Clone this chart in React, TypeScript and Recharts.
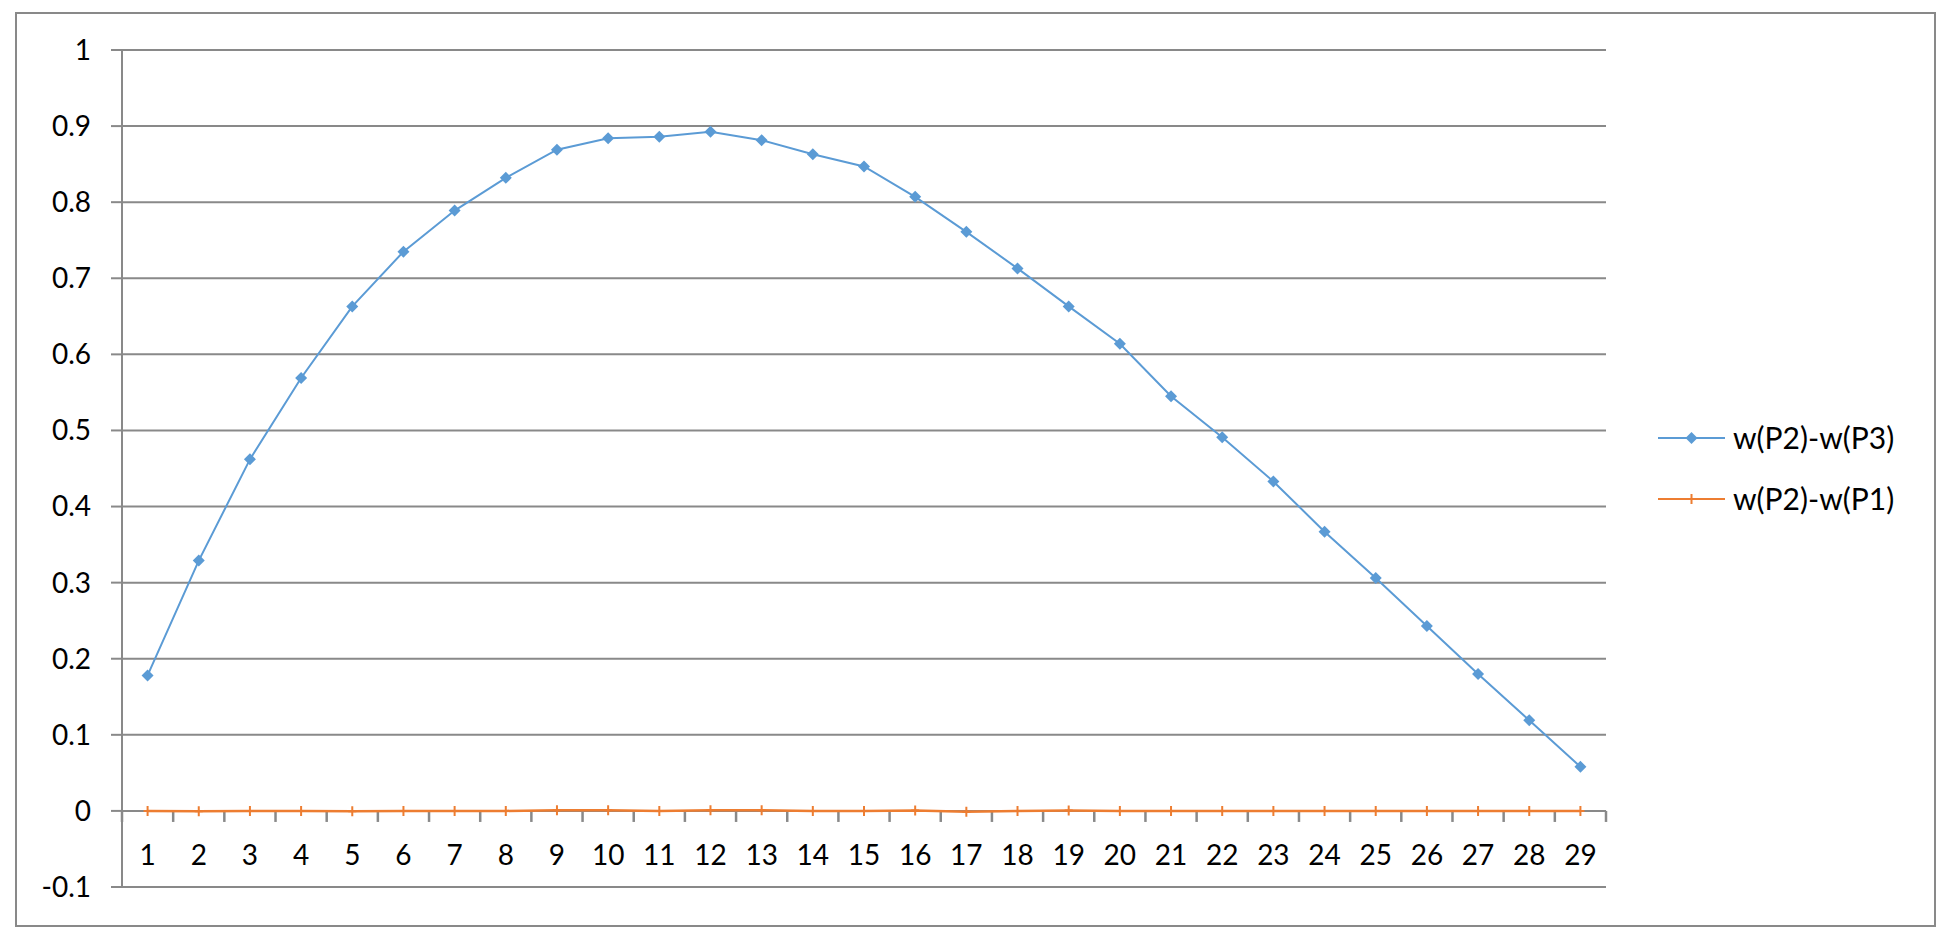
import React from 'react';
import { LineChart, Line, XAxis, YAxis, CartesianGrid, ReferenceLine } from 'recharts';

const categories = [1, 2, 3, 4, 5, 6, 7, 8, 9, 10, 11, 12, 13, 14, 15, 16, 17, 18, 19, 20, 21, 22, 23, 24, 25, 26, 27, 28, 29];
const seriesP2P3 = [0.178, 0.329, 0.462, 0.569, 0.663, 0.735, 0.789, 0.832, 0.869, 0.884, 0.886, 0.8925, 0.8815, 0.863, 0.847, 0.807, 0.761, 0.713, 0.663, 0.614, 0.545, 0.491, 0.433, 0.367, 0.306, 0.243, 0.180, 0.119, 0.058];
const seriesP2P1 = [0, -0.0005, 0, 0, -0.0005, 0, 0, 0, 0.001, 0.001, 0, 0.001, 0.001, 0, 0, 0.0005, -0.001, 0, 0.0005, 0, 0, 0, 0, 0, 0, 0, 0, 0, 0];
const yTicks = [-0.1, 0, 0.1, 0.2, 0.3, 0.4, 0.5, 0.6, 0.7, 0.8, 0.9, 1];
const seriesNames = ['w(P2)-w(P3)', 'w(P2)-w(P1)'];
const boundaries = [0.5, 1.5, 2.5, 3.5, 4.5, 5.5, 6.5, 7.5, 8.5, 9.5, 10.5, 11.5, 12.5, 13.5, 14.5, 15.5, 16.5, 17.5, 18.5, 19.5, 20.5, 21.5, 22.5, 23.5, 24.5, 25.5, 26.5, 27.5, 28.5, 29.5];

const BLUE = '#5B9BD5';
const ORANGE = '#ED7D31';
const GRAY = '#898989';
const FONT = 'Lato, "Open Sans", sans-serif';

const data = categories.map((c, i) => ({ x: c, a: seriesP2P3[i], b: seriesP2P1[i] }));

const Diamond = (props: any) => {
  const { cx, cy } = props;
  if (cx == null || cy == null) return null;
  const r = 6;
  return <polygon points={`${cx},${cy - r} ${cx + r},${cy} ${cx},${cy + r} ${cx - r},${cy}`} fill={BLUE} stroke="none" />;
};

const Plus = (props: any) => {
  const { cx, cy } = props;
  if (cx == null || cy == null) return null;
  return <path d={`M${cx - 4},${cy} H${cx + 4} M${cx},${cy - 5} V${cy + 5}`} stroke={ORANGE} strokeWidth={2} fill="none" />;
};

const XTick = (props: any) => {
  const { x, y, payload } = props;
  return (
    <text x={x} y={y - 32} dy="0.36em" textAnchor="middle" fontSize={28} fontFamily={FONT} fill="#000">
      {payload.value}
    </text>
  );
};

export default function App() {
  return (
    <div style={{ position: 'relative', width: 1937, height: 925 }}>
      <div style={{ position: 'absolute', left: 7, top: 4, width: 1921, height: 915, border: `2.5px solid ${GRAY}`, boxSizing: 'border-box', pointerEvents: 'none' }} />
      <LineChart width={1937} height={925} data={data} margin={{ top: 42, right: 339, bottom: 45, left: 0 }}>
        <CartesianGrid vertical={false} horizontal stroke={GRAY} strokeWidth={2} />
        <XAxis
          dataKey="x"
          type="number"
          domain={[0.5, 29.5]}
          ticks={categories}
          interval={0}
          axisLine={false}
          tickLine={false}
          tickSize={0}
          tickMargin={0}
          height={1}
          tick={<XTick />}
        />
        <YAxis
          domain={[-0.1, 1]}
          ticks={yTicks}
          interval={0}
          width={114}
          axisLine={{ stroke: GRAY, strokeWidth: 2 }}
          tickLine={{ stroke: GRAY, strokeWidth: 2 }}
          tickSize={11}
          tickMargin={20}
          tick={{ fontSize: 28, fontFamily: FONT, fill: '#000' }}
        />
        {boundaries.map((b) => (
          <ReferenceLine key={b} segment={[{ x: b, y: 0 }, { x: b, y: -0.0145 }]} stroke={GRAY} strokeWidth={2.5} ifOverflow="visible" />
        ))}
        <Line dataKey="b" stroke={ORANGE} strokeWidth={2.5} dot={<Plus />} isAnimationActive={false} />
        <Line dataKey="a" stroke={BLUE} strokeWidth={2} dot={<Diamond />} isAnimationActive={false} />
      </LineChart>
      <svg style={{ position: 'absolute', left: 1650, top: 405 }} width={280} height={110}>
        <line x1={0} y1={25} x2={67} y2={25} stroke={BLUE} strokeWidth={2} />
        <polygon points="33.5,19 39.5,25 33.5,31 27.5,25" fill={BLUE} />
        <text x={75} y={25} dy="0.36em" fontSize={30} fontFamily={FONT} fill="#000">{seriesNames[0]}</text>
        <line x1={0} y1={86} x2={67} y2={86} stroke={ORANGE} strokeWidth={2} />
        <path d="M33.5,81 V91" stroke={ORANGE} strokeWidth={2} />
        <text x={75} y={86} dy="0.36em" fontSize={30} fontFamily={FONT} fill="#000">{seriesNames[1]}</text>
      </svg>
    </div>
  );
}
